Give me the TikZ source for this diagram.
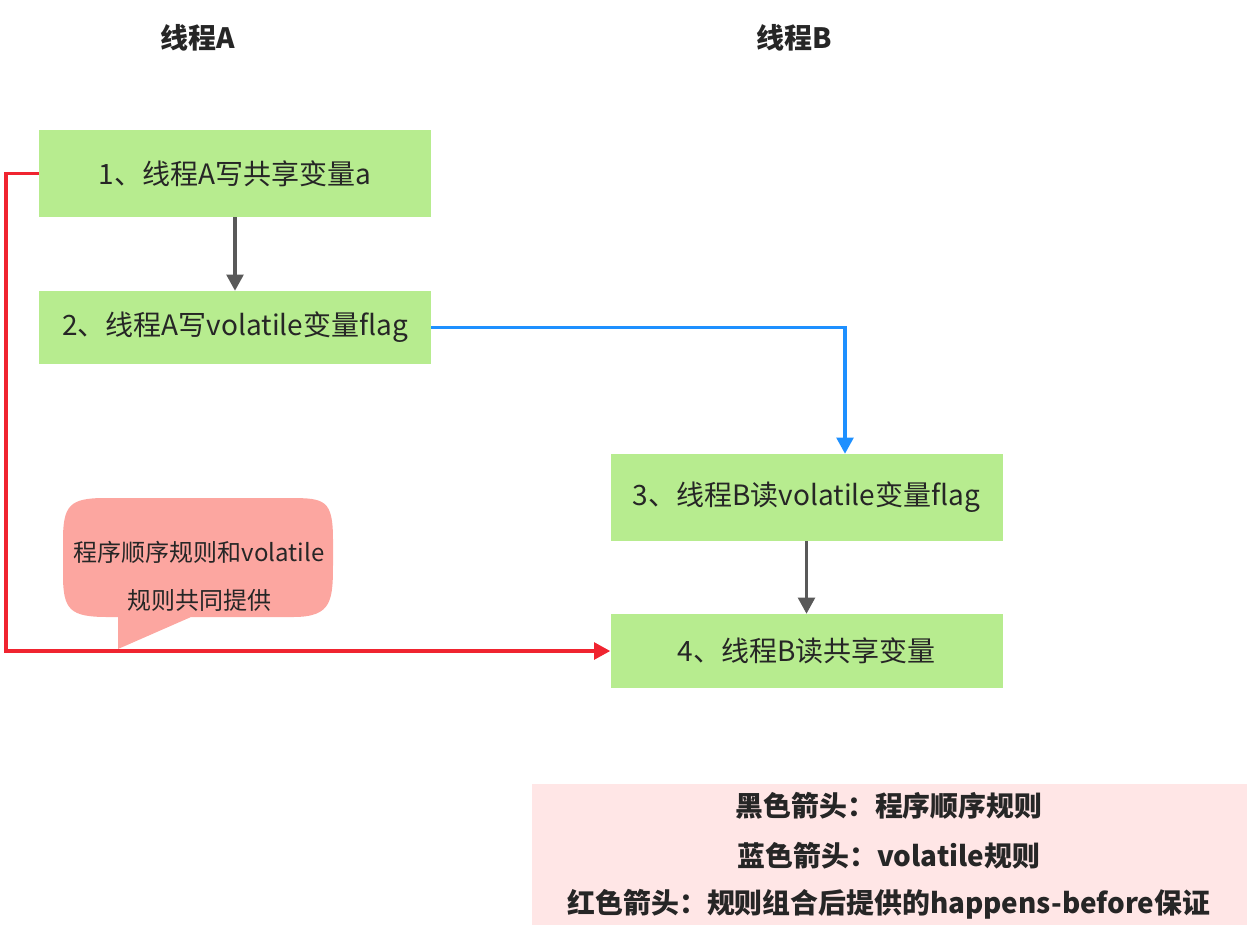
\documentclass[tikz,border=0pt]{standalone}
\usepackage{fontspec}
\setmainfont{Noto Sans CJK SC}
\usetikzlibrary{arrows.meta,positioning}
\definecolor{boxgreen}{RGB}{183,236,143}
\definecolor{arrgray}{RGB}{89,89,89}
\definecolor{arrblue}{RGB}{30,144,255}
\definecolor{arrred}{RGB}{240,36,48}
\definecolor{callfill}{RGB}{252,166,160}
\definecolor{legfill}{RGB}{255,230,230}
\definecolor{txt}{RGB}{38,38,38}
\tikzset{
  stepbox/.style={fill=boxgreen, draw=none, minimum width=294pt, minimum height=#1, inner sep=0pt, font=\fontsize{21}{25}\selectfont, text=txt},
  conn/.style={line width=2.3pt, -{Triangle[length=12pt,width=12.5pt]}},
  titlelbl/.style={font=\fontsize{21}{25}\selectfont\bfseries, text=txt},
  leglbl/.style={font=\fontsize{20.9}{25}\selectfont\bfseries, text=txt},
  calllbl/.style={font=\fontsize{18}{21}\selectfont, text=txt},
}
\begin{document}
\begin{tikzpicture}[x=0.75pt,y=-0.75pt]
\useasboundingbox (0,0) rectangle (1251,929);
\node[titlelbl] (tA) at (198,38) {线程A};
\node[titlelbl] (tB) at (794,38) {线程B};
\node[stepbox=65.25pt] (s1) at (235,173.5) {1、线程A写共享变量a};
\node[stepbox=54.75pt] (s2) at (235,327.5) {2、线程A写volatile变量flag};
\node[stepbox=65.25pt] (s3) at (806.5,497.5) {3、线程B读volatile变量flag};
\node[stepbox=55.5pt] (s4) at (806.5,651) {4、线程B读共享变量};
% callout
\fill[callfill] (108,617) -- (118,617) -- (118,649) -- (191,617) -- (293,617)
  .. controls (333,617) and (333,600) .. (333,560)
  -- (333,540) .. controls (333,500) and (325,498) .. (290,498)
  -- (105,498) .. controls (70,498) and (63,505) .. (63,540)
  -- (63,575) .. controls (63,610) and (70,617) .. (108,617) -- cycle;
\node[calllbl] (cl1) at (199,552) {程序顺序规则和volatile};
\node[calllbl] (cl2) at (199,600) {规则共同提供};
% legend
\fill[legfill] (532,784) rectangle (1247,925);
\node[leglbl] (l1) at (889,806) {黑色箭头：程序顺序规则};
\node[leglbl] (l2) at (889,856) {蓝色箭头：volatile规则};
\node[leglbl] (l3) at (889,904) {红色箭头：规则组合后提供的happens-before保证};
% connectors
\draw[conn, arrgray] (s1.south) -- (s2.north);
\draw[conn, arrgray] (s3.south) -- (s4.north);
\draw[conn, arrblue] (s2.east) -| (845,0 |- s3.north);
\draw[conn, arrred] (s1.west) -- (6,173.5) |- (s4.west);
\end{tikzpicture}
\end{document}
